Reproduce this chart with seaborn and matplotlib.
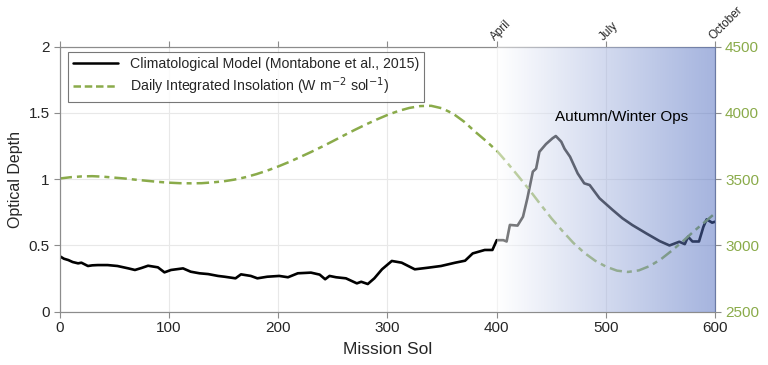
import numpy as np
import pandas as pd
import matplotlib
matplotlib.use("Agg")
import matplotlib.pyplot as plt
import seaborn as sns
from matplotlib.lines import Line2D

#%% data
od_sol = [0, 4, 8, 12, 17, 20, 26, 30, 35, 44,
          53, 63, 69, 75, 81, 90, 96, 102, 113, 120,
          128, 136, 145, 151, 161, 166, 175, 181, 190, 201,
          209, 218, 230, 238, 243, 247, 253, 262, 272, 276,
          282, 288, 295, 304, 313, 325, 337, 349, 362, 371,
          378, 389, 396, 400, 406, 409, 412, 419, 424, 428,
          433, 436, 439, 445, 451, 454, 459, 462, 467, 474,
          480, 485, 494, 506, 515, 524, 537, 549, 558, 567,
          572, 575, 579, 585, 589, 592, 597, 600]
od_val = [0.42, 0.40, 0.39, 0.375, 0.365, 0.37, 0.345, 0.35, 0.352, 0.352,
          0.345, 0.327, 0.315, 0.33, 0.347, 0.335, 0.297, 0.315, 0.327, 0.302,
          0.29, 0.284, 0.27, 0.264, 0.252, 0.282, 0.27, 0.252, 0.264, 0.27,
          0.26, 0.29, 0.295, 0.28, 0.245, 0.27, 0.26, 0.252, 0.214, 0.226,
          0.209, 0.252, 0.32, 0.383, 0.37, 0.32, 0.332, 0.345, 0.37, 0.385,
          0.44, 0.466, 0.466, 0.54, 0.54, 0.53, 0.655, 0.65, 0.717, 0.856,
          1.057, 1.08, 1.207, 1.265, 1.309, 1.326, 1.283, 1.23, 1.17, 1.044,
          0.969, 0.956, 0.856, 0.768, 0.705, 0.654, 0.59, 0.533, 0.5, 0.528,
          0.51, 0.566, 0.53, 0.53, 0.64, 0.697, 0.672, 0.68]

ins_sol = list(range(0, 601, 10))
ins_val = [3505, 3515, 3521, 3523, 3519, 3512, 3505, 3496, 3488, 3480,
           3474, 3470, 3469, 3470, 3476, 3484, 3497, 3515, 3538, 3565,
           3596, 3630, 3667, 3705, 3745, 3787, 3830, 3872, 3912, 3950,
           3985, 4015, 4038, 4052, 4054, 4035, 3995, 3935, 3860, 3790,
           3715, 3620, 3520, 3418, 3310, 3205, 3110, 3020, 2945, 2885,
           2840, 2810, 2800, 2812, 2845, 2895, 2960, 3030, 3105, 3175,
           3245]

month_pos = [400, 500, 600]
month_lab = ['April', 'July', 'October']

od = pd.DataFrame({'sol': od_sol, 'tau': od_val})
ins = pd.DataFrame({'sol': ins_sol, 'ins': ins_val})

#%% style
sns.set_theme(style='white')
plt.rcParams['font.family'] = ['Liberation Sans', 'DejaVu Sans']
green = '#8aab4a'
spine_c = '#8c8c8c'

fig = plt.figure(figsize=(7.68, 3.65), dpi=100)
ax = fig.add_axes([0.0775, 0.146, 0.854, 0.726])
ax2 = ax.twinx()

sns.lineplot(data=od, x='sol', y='tau', ax=ax, color='black', lw=1.9, sort=False)
sns.lineplot(data=ins, x='sol', y='ins', ax=ax2, color=green, lw=1.8,
             linestyle=(0, (5, 2, 2, 2)))

ax.set_xlim(0, 600)
ax.set_ylim(0, 2)
ax2.set_ylim(2500, 4500)
ax.set_xticks(range(0, 601, 100))
ax.set_yticks([0, 0.5, 1, 1.5, 2])
ax.set_yticklabels(['0', '0.5', '1', '1.5', '2'])
ax2.set_yticks(range(2500, 4501, 500))
ax.grid(True, color='#e8e8e8', lw=0.8)
ax.set_axisbelow(True)

ax.set_xlabel('Mission Sol', fontsize=12.5, labelpad=5)
ax.set_ylabel('Optical Depth', fontsize=11.5, labelpad=4)
ax2.set_ylabel('')

ax.tick_params(axis='both', labelsize=11, direction='out', length=4,
               color=spine_c, width=0.8, left=True, bottom=True, pad=3,
               top=True)
ax2.tick_params(axis='y', labelsize=11, labelcolor=green, direction='out',
                length=4, color=spine_c, width=0.8, right=True, pad=3)
for a in (ax, ax2):
    for s in a.spines.values():
        s.set_color(spine_c)
        s.set_linewidth(0.8)

# month labels on top
top = ax.secondary_xaxis('top')
top.set_xticks(month_pos)
top.set_xticklabels(month_lab, rotation=45, ha='left', va='bottom',
                    fontsize=8.5, rotation_mode='anchor')
top.tick_params(length=0, pad=3)
top.spines['top'].set_visible(False)

# gradient overlay over the autumn/winter part
n = 256
grad = np.zeros((1, n, 4))
t = np.linspace(0, 1, n)
grad[0, :, 0] = 1 - t * (1 - 75 / 255)
grad[0, :, 1] = 1 - t * (1 - 105 / 255)
grad[0, :, 2] = 1 - t * (1 - 190 / 255)
grad[0, :, 3] = 0.5
ax2.imshow(grad, extent=[400, 600, 2500, 4500], aspect='auto',
           zorder=5, interpolation='bilinear')
ax2.set_xlim(0, 600)
ax2.set_ylim(2500, 4500)

ax2.text(514, 3970, 'Autumn/Winter Ops', fontsize=11, ha='center',
         va='center', color='black', zorder=6)

handles = [Line2D([], [], color='black', lw=1.8),
           Line2D([], [], color=green, lw=1.8, linestyle=(0, (3, 1.5)))]
labels = ['Climatological Model (Montabone et al., 2015)',
          'Daily Integrated Insolation (W m$^{-2}$ sol$^{-1}$)']
if ax.get_legend():
    ax.get_legend().remove()
leg = ax2.legend(handles, labels, loc='upper left', fontsize=10.2,
                 frameon=True, fancybox=False, edgecolor='#555555',
                 borderpad=0.35, handlelength=3.2, labelspacing=0.3,
                 borderaxespad=0, bbox_to_anchor=(0.013, 0.98))
leg.get_frame().set_linewidth(0.8)
leg.set_zorder(7)

fig.savefig('out.png', dpi=100)
